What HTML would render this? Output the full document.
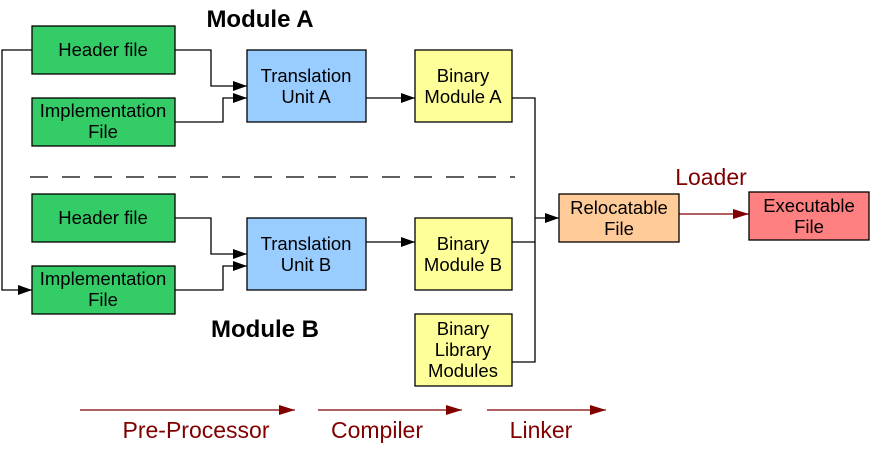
<!DOCTYPE html>
<html><head><style>
body{margin:0;background:#fff;}
svg text{font-family:"Liberation Sans",Arial,sans-serif;}
</style></head><body>
<svg width="872" height="447" viewBox="0 0 872 447" xmlns="http://www.w3.org/2000/svg">
<defs>
<marker id="a" markerWidth="14" markerHeight="10" refX="14" refY="5" orient="auto" markerUnits="userSpaceOnUse"><path d="M0,0 L14,5 L0,10 z" fill="#000"/></marker>
<marker id="r" markerWidth="16" markerHeight="10" refX="16" refY="5" orient="auto" markerUnits="userSpaceOnUse"><path d="M0,0 L16,5 L0,10 z" fill="#800000"/></marker>
</defs>
<g stroke="#000" stroke-width="1.3" fill="none">
<polyline points="32,50 2,50 2,290 32,290" marker-end="url(#a)"/>
<polyline points="175,50 211,50 211,86 247,86" marker-end="url(#a)"/>
<polyline points="175,122 223,122 223,98 247,98" marker-end="url(#a)"/>
<polyline points="175,218 211,218 211,254 247,254" marker-end="url(#a)"/>
<polyline points="175,290 223,290 223,266 247,266" marker-end="url(#a)"/>
<line x1="366" y1="98" x2="415" y2="98" marker-end="url(#a)"/>
<line x1="366" y1="242" x2="415" y2="242" marker-end="url(#a)"/>
<polyline points="512,98 535,98 535,362 512,362"/>
<line x1="512" y1="242" x2="535" y2="242"/>
<line x1="535" y1="218" x2="559" y2="218" marker-end="url(#a)"/>
<line x1="30" y1="177" x2="515" y2="177" stroke-dasharray="18,14"/>
</g>
<g stroke="#800000" stroke-width="1.3">
<line x1="679" y1="214" x2="749" y2="214" marker-end="url(#r)"/>
<line x1="80" y1="410" x2="295" y2="410" marker-end="url(#r)"/>
<line x1="318" y1="410" x2="462" y2="410" marker-end="url(#r)"/>
<line x1="487" y1="410" x2="606" y2="410" marker-end="url(#r)"/>
</g>
<g stroke="#000" stroke-width="1.3">
<rect x="32" y="26" width="143" height="48" fill="#33cc66"/>
<rect x="32" y="98" width="143" height="48" fill="#33cc66"/>
<rect x="32" y="194" width="143" height="48" fill="#33cc66"/>
<rect x="32" y="266" width="143" height="48" fill="#33cc66"/>
<rect x="247" y="50" width="119" height="72" fill="#99ccff"/>
<rect x="247" y="218" width="119" height="72" fill="#99ccff"/>
<rect x="415" y="50" width="97" height="72" fill="#ffff99"/>
<rect x="415" y="218" width="97" height="72" fill="#ffff99"/>
<rect x="415" y="314" width="97" height="72" fill="#ffff99"/>
<rect x="559" y="194" width="120" height="48" fill="#ffcc99"/>
<rect x="749" y="192" width="120" height="48" fill="#ff8080"/>
</g>
<g font-size="18.5" text-anchor="middle" fill="#000">
<text x="103" y="56">Header file</text>
<text x="103" y="117">Implementation</text><text x="103" y="138">File</text>
<text x="103" y="224">Header file</text>
<text x="103" y="285">Implementation</text><text x="103" y="306">File</text>
<text x="306" y="82">Translation</text><text x="306" y="103">Unit A</text>
<text x="306" y="250">Translation</text><text x="306" y="271">Unit B</text>
<text x="463" y="82">Binary</text><text x="463" y="103">Module A</text>
<text x="463" y="250">Binary</text><text x="463" y="271">Module B</text>
<text x="463" y="335">Binary</text><text x="463" y="356">Library</text><text x="463" y="377">Modules</text>
<text x="619" y="214">Relocatable</text><text x="619" y="235">File</text>
<text x="809" y="212">Executable</text><text x="809" y="233">File</text>
</g>
<g font-size="24" font-weight="bold" text-anchor="middle">
<text x="260" y="27">Module A</text>
<text x="265" y="337">Module B</text>
</g>
<g font-size="23" fill="#800000" text-anchor="middle">
<text x="711" y="185">Loader</text>
<text x="196" y="438">Pre-Processor</text>
<text x="377" y="438">Compiler</text>
<text x="541" y="438">Linker</text>
</g>
</svg>
</body></html>
